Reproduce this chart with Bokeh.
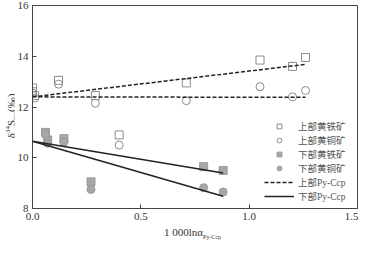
from bokeh.plotting import figure
from bokeh.models import Legend, LegendItem, Range1d, FixedTicker, PrintfTickFormatter, Div
from bokeh.layouts import row, column
from bokeh.embed import file_html
from bokeh.resources import INLINE

# ---- data ----
up_py_x = [0.0, 0.0, 0.01, 0.12, 0.29, 0.40, 0.71, 1.05, 1.20, 1.26]
up_py_y = [12.75, 12.6, 12.45, 13.05, 12.45, 10.9, 12.95, 13.85, 13.6, 13.95]
up_cp_x = [0.0, 0.01, 0.12, 0.29, 0.40, 0.71, 1.05, 1.20, 1.26]
up_cp_y = [12.55, 12.35, 12.9, 12.15, 10.5, 12.25, 12.8, 12.4, 12.65]
low_py_x = [0.06, 0.07, 0.145, 0.27, 0.79, 0.88]
low_py_y = [11.0, 10.7, 10.75, 9.05, 9.65, 9.5]
low_cp_x = [0.06, 0.07, 0.145, 0.27, 0.79, 0.88]
low_cp_y = [10.92, 10.57, 10.62, 8.75, 8.82, 8.65]

# regression lines (end points)
up_py_fit_x = [0.0, 1.26]
up_py_fit_y = [12.4, 13.68]
up_cp_fit_x = [0.0, 1.26]
up_cp_fit_y = [12.4, 12.38]
low_py_fit_x = [0.0, 0.88]
low_py_fit_y = [10.65, 9.40]
low_cp_fit_x = [0.0, 0.88]
low_cp_fit_y = [10.65, 8.48]

x_ticks = [0.0, 0.5, 1.0, 1.5]
y_ticks = [8, 10, 12, 14, 16]
legend_labels = ["上部黄铁矿", "上部黄铜矿", "下部黄铁矿", "下部黄铜矿", "上部Py-Ccp", "下部Py-Ccp"]

SERIF = "'Liberation Serif'"
MIX = "'Liberation Serif', 'Noto Sans CJK SC'"

p = figure(width=344, height=224, x_range=Range1d(0, 1.5), y_range=Range1d(8, 16),
           output_backend="svg", toolbar_location=None,
           min_border_left=17, min_border_right=1, min_border_top=5, min_border_bottom=16)
p.grid.visible = False
p.outline_line_color = "#444"
p.background_fill_color = "white"

for ax in (p.xaxis[0], p.yaxis[0]):
    ax.major_tick_in = 4
    ax.major_tick_out = 0
    ax.minor_tick_line_color = None
    ax.axis_line_color = "#444"
    ax.major_tick_line_color = "#444"
    ax.major_label_text_font = SERIF
    ax.major_label_text_font_size = "11px"
    ax.major_label_text_color = "#333"
    ax.major_label_standoff = 4

p.xaxis.ticker = FixedTicker(ticks=x_ticks)
p.xaxis.formatter = PrintfTickFormatter(format="%.1f")
p.yaxis.ticker = FixedTicker(ticks=y_ticks)

r1 = p.scatter(up_py_x, up_py_y, marker="square", size=8, fill_color=None, line_color="#8c8c8c")
r2 = p.scatter(up_cp_x, up_cp_y, marker="circle", size=8, fill_color=None, line_color="#8c8c8c")
r3 = p.scatter(low_py_x, low_py_y, marker="square", size=8, fill_color="#a8a8a8", line_color="#999999")
r4 = p.scatter(low_cp_x, low_cp_y, marker="circle", size=8, fill_color="#a8a8a8", line_color="#999999")

l1 = p.line(up_py_fit_x, up_py_fit_y, line_color="#222", line_width=1.5, line_dash="4 2")
l2 = p.line(up_cp_fit_x, up_cp_fit_y, line_color="#222", line_width=1.5, line_dash="4 2")
l3 = p.line(low_py_fit_x, low_py_fit_y, line_color="#222", line_width=1.5)
l4 = p.line(low_cp_fit_x, low_cp_fit_y, line_color="#222", line_width=1.5)

items = [LegendItem(label=t, renderers=[r]) for t, r in zip(legend_labels, [r1, r2, r3, r4, l1, l3])]
legend = Legend(items=items, location=(232, 5), padding=0, margin=0, spacing=0,
                glyph_width=30, glyph_height=12, label_height=12, label_standoff=4,
                border_line_color=None, background_fill_alpha=0,
                label_text_font=MIX, label_text_font_size="9.5px", label_text_color="#555")
p.add_layout(legend)

ylab_html = (
    '<div style="width:14px;height:224px;position:relative;overflow:visible;">'
    '<div style="position:absolute;left:11px;top:116px;transform:translate(-50%,-50%) rotate(-90deg);'
    "white-space:nowrap;font-family:'Liberation Serif',serif;font-size:11px;line-height:11px;color:#333;\">"
    'δ<sup style="font-size:7px;line-height:0;">34</sup>S<sub style="font-size:7px;line-height:0;">ΣS</sub>(‰)'
    '</div></div>'
)
ydiv = Div(text=ylab_html, width=14, height=224, margin=0)

xlab_html = (
    "<div style=\"padding-left:164px;padding-top:1px;font-family:'Liberation Serif',serif;font-size:11px;"
    'line-height:14px;height:13px;color:#333;white-space:nowrap;">'
    '1 000lnα<sub style="font-size:6px;line-height:0;">Py-Ccp</sub></div>'
)
xdiv = Div(text=xlab_html, width=358, height=14, margin=0)

layout = column(row(ydiv, p, spacing=0), xdiv, spacing=0)

open("out.html", "w").write(file_html(layout, INLINE))
